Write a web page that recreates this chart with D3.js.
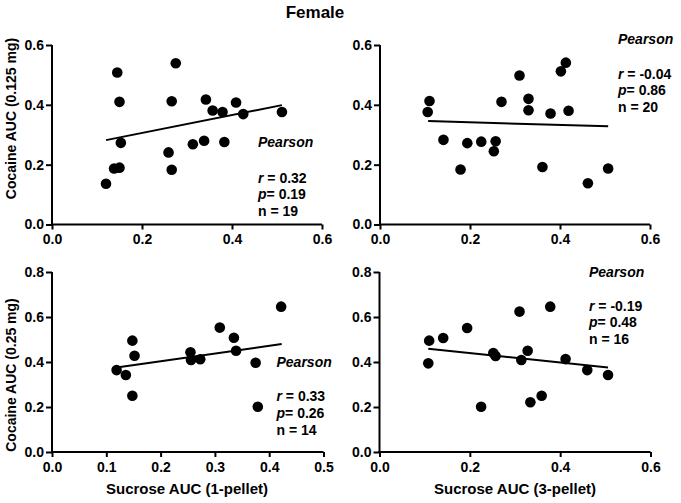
<!DOCTYPE html>
<html><head><meta charset="utf-8">
<script src="https://cdn.jsdelivr.net/npm/d3@7"></script>
<style>
body{margin:0;background:#fff;}
svg text{font-family:"Liberation Sans",Arial,Helvetica,sans-serif;font-weight:bold;fill:#000;}
</style></head>
<body><svg id="c" width="681" height="503"></svg>
<script>
const title = "Female";
const yLabels = ["Cocaine AUC (0.125 mg)", "Cocaine AUC (0.25 mg)"];
const xLabels = ["Sucrose AUC (1-pellet)", "Sucrose AUC (3-pellet)"];

// Panel 1: 0.125 mg vs 1-pellet
const p1X = [0.12,0.138,0.150,0.153,0.150,0.145,0.259,0.266,0.266,0.275,0.313,0.338,0.342,0.357,0.379,0.383,0.409,0.425,0.511];
const p1Y = [0.136,0.187,0.190,0.273,0.410,0.508,0.241,0.183,0.412,0.539,0.268,0.280,0.418,0.381,0.376,0.276,0.408,0.369,0.376];
const p1Line = [[0.12,0.282],[0.511,0.399]];
const p1Stats = ["0.32","0.19","19"];

// Panel 2: 0.125 mg vs 3-pellet
const p2X = [0.106,0.110,0.141,0.179,0.194,0.225,0.253,0.257,0.270,0.310,0.330,0.330,0.361,0.379,0.402,0.413,0.419,0.462,0.507];
const p2Y = [0.376,0.413,0.283,0.184,0.272,0.277,0.245,0.278,0.410,0.498,0.420,0.382,0.192,0.371,0.512,0.541,0.380,0.138,0.187];
const p2Line = [[0.107,0.346],[0.507,0.328]];
const p2Stats = ["-0.04","0.86","20"];

// Panel 3: 0.25 mg vs 1-pellet
const p3X = [0.119,0.136,0.148,0.152,0.148,0.255,0.256,0.273,0.309,0.335,0.339,0.375,0.379,0.422];
const p3Y = [0.364,0.342,0.495,0.428,0.250,0.443,0.409,0.412,0.553,0.508,0.450,0.397,0.201,0.646];
const p3Line = [[0.119,0.376],[0.423,0.480]];
const p3Stats = ["0.33","0.26","14"];

// Panel 4: 0.25 mg vs 3-pellet
const p4X = [0.108,0.110,0.141,0.194,0.225,0.252,0.257,0.310,0.314,0.328,0.334,0.359,0.378,0.412,0.460,0.506];
const p4Y = [0.394,0.495,0.507,0.551,0.201,0.440,0.427,0.624,0.409,0.450,0.221,0.250,0.646,0.413,0.364,0.342];
const p4Line = [[0.108,0.459],[0.506,0.376]];
const p4Stats = ["-0.19","0.48","16"];

const xTicks1 = [0,0.2,0.4,0.6];
const xTicks3 = [0,0.1,0.2,0.3,0.4,0.5];
const yTicksTop = [0,0.2,0.4,0.6];
const yTicksBot = [0,0.2,0.4,0.6,0.8];

const svg = d3.select("#c");
svg.append("text").attr("x",315).attr("y",18).attr("text-anchor","middle").attr("font-size",17).text(title);

const panels = [
 {xs:p1X, ys:p1Y, line:p1Line, stats:p1Stats, xd:[0,0.6], yd:[0,0.6], xr:[52,322], yr:[224.5,45], xt:xTicks1, yt:yTicksTop, txt:[258,147,182.5]},
 {xs:p2X, ys:p2Y, line:p2Line, stats:p2Stats, xd:[0,0.6], yd:[0,0.6], xr:[380,650], yr:[224.5,45], xt:xTicks1, yt:yTicksTop, txt:[618,43.5,78.5]},
 {xs:p3X, ys:p3Y, line:p3Line, stats:p3Stats, xd:[0,0.5], yd:[0,0.8], xr:[52,323.5], yr:[452,272], xt:xTicks3, yt:yTicksBot, txt:[276.5,366.5,401]},
 {xs:p4X, ys:p4Y, line:p4Line, stats:p4Stats, xd:[0,0.6], yd:[0,0.8], xr:[379.5,650.5], yr:[452,272], xt:xTicks1, yt:yTicksBot, txt:[589,276.5,310.5]}
];

panels.forEach(p=>{
  const x = d3.scaleLinear().domain(p.xd).range(p.xr);
  const y = d3.scaleLinear().domain(p.yd).range(p.yr);
  const g = svg.append("g");
  const xa = g.append("g").attr("transform",`translate(0,${p.yr[0]})`)
    .call(d3.axisBottom(x).tickValues(p.xt).tickFormat(d3.format(".1f")).tickSize(5).tickPadding(5).tickSizeOuter(0));
  const ya = g.append("g").attr("transform",`translate(${p.xr[0]},0)`)
    .call(d3.axisLeft(y).tickValues(p.yt).tickFormat(d3.format(".1f")).tickSize(6).tickPadding(2).tickSizeOuter(0));
  [xa,ya].forEach(a=>{
    a.selectAll("path,line").attr("stroke","#000").attr("stroke-width",2);
    a.selectAll("text").attr("font-size",14).attr("font-family",'"Liberation Sans",Arial,sans-serif').attr("font-weight","bold").attr("fill","#000");
  });
  xa.select(".domain").attr("d",`M${p.xr[0]-1},0H${p.xr[1]}`);
  ya.select(".domain").attr("d",`M0,${p.yr[0]+1}V${p.yr[1]}`);
  g.append("line")
    .attr("x1",x(p.line[0][0])).attr("y1",y(p.line[0][1]))
    .attr("x2",x(p.line[1][0])).attr("y2",y(p.line[1][1]))
    .attr("stroke","#000").attr("stroke-width",2);
  g.selectAll("circle.pt").data(p.xs.map((v,i)=>[v,p.ys[i]])).enter().append("circle")
    .attr("cx",d=>x(d[0])).attr("cy",d=>y(d[1])).attr("r",5.3).attr("fill","#000");
  const [tx,ty1,ty2] = p.txt;
  g.append("text").attr("x",tx).attr("y",ty1).attr("font-size",14).attr("font-style","italic").text("Pearson");
  const labels = [["r"," = "+p.stats[0]],["p","= "+p.stats[1]],[null,"n = "+p.stats[2]]];
  labels.forEach((l,i)=>{
    const t = g.append("text").attr("x",tx).attr("y",ty2+i*16.8).attr("font-size",14);
    if(l[0]) t.append("tspan").attr("font-style","italic").text(l[0]);
    t.append("tspan").text(l[1]);
  });
});

svg.append("text").attr("transform","translate(15.5,118.5) rotate(-90)").attr("text-anchor","middle").attr("font-size",14).text(yLabels[0]);
svg.append("text").attr("transform","translate(15.5,375) rotate(-90)").attr("text-anchor","middle").attr("font-size",14).text(yLabels[1]);
svg.append("text").attr("x",187).attr("y",494).attr("text-anchor","middle").attr("font-size",15).text(xLabels[0]);
svg.append("text").attr("x",515).attr("y",494).attr("text-anchor","middle").attr("font-size",15).text(xLabels[1]);
</script></body></html>
